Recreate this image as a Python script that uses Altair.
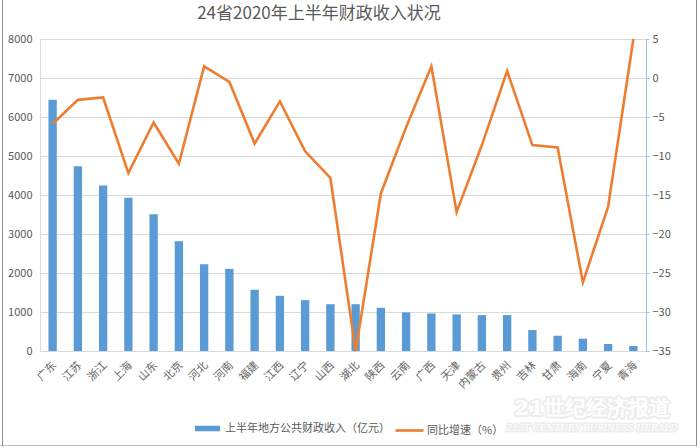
import altair as alt
import pandas as pd

provinces = ["广东", "江苏", "浙江", "上海", "山东", "北京", "河北", "河南", "福建", "江西", "辽宁", "山西",
             "湖北", "陕西", "云南", "广西", "天津", "内蒙古", "贵州", "吉林", "甘肃", "海南", "宁夏", "青海"]
revenue = [6445, 4740, 4245, 3930, 3504, 2813, 2225, 2106, 1570, 1415, 1305, 1200,
           1200, 1108, 990, 963, 938, 920, 920, 537, 392, 315, 180, 128]
growth = [-5.9, -2.8, -2.5, -12.2, -5.7, -11.0, 1.5, -0.5, -8.4, -3.0, -9.4, -12.8,
          -35.0, -14.8, -6.3, 1.5, -17.2, -8.6, 0.9, -8.6, -8.9, -26.2, -16.5, 5.0]
bar_name = "上半年地方公共财政收入（亿元）"
line_name = "同比增速（%）"
title_text = "24省2020年上半年财政收入状况"
watermark = ["21世纪经济报道", "21ST CENTURY BUSINESS HERALD"]

FONT = "Noto Sans CJK SC"
GREY = "#595959"
BLUE = "#5B9BD5"
ORANGE = "#ED7D31"

df = pd.DataFrame({
    "province": provinces,
    "revenue": revenue,
    "growth": growth,
    "bar_series": [bar_name] * len(provinces),
    "line_series": [line_name] * len(provinces),
})

x_enc = alt.X("province:N", sort=provinces, title=None,
              scale=alt.Scale(paddingInner=0.67, paddingOuter=0.335),
              axis=alt.Axis(labelAngle=-45, labelFontSize=11, labelColor="#666666", labelFont=FONT,
                            ticks=False, domainColor="#d9d9d9", labelPadding=8, labelOffset=-2))

bars = alt.Chart(df).mark_bar(color=BLUE).encode(
    x=x_enc,
    y=alt.Y("revenue:Q", title=None,
            scale=alt.Scale(domain=[0, 8000], nice=False),
            axis=alt.Axis(values=list(range(0, 8001, 1000)), format="d", domain=False, ticks=False,
                          labelFontSize=11, labelColor=GREY, labelFont=FONT, labelPadding=8,
                          gridColor="#d9d9d9", grid=True)),
    color=alt.Color("bar_series:N", title=None,
                    scale=alt.Scale(domain=[bar_name], range=[BLUE]),
                    legend=alt.Legend(orient="none", legendX=154, legendY=376,
                                      symbolType="M-1,-0.22H1V0.22H-1Z", symbolSize=625,
                                      symbolOpacity=1, labelFontSize=11, labelColor=GREY,
                                      labelFont=FONT, labelOffset=4, labelLimit=0)),
)

line = alt.Chart(df).mark_line(strokeWidth=2.6).encode(
    x=alt.X("province:N", sort=provinces),
    y=alt.Y("growth:Q", title=None,
            scale=alt.Scale(domain=[-35, 5], nice=False),
            axis=alt.Axis(orient="right", values=list(range(-35, 6, 5)), grid=False,
                          domainColor="#9DBFE0", tickColor="#9DBFE0", tickSize=3,
                          labelFontSize=11, labelColor=GREY, labelFont=FONT, labelPadding=3)),
    stroke=alt.Stroke("line_series:N", title=None,
                      scale=alt.Scale(domain=[line_name], range=[ORANGE]),
                      legend=alt.Legend(orient="none", legendX=354, legendY=376,
                                        symbolType="stroke", symbolSize=784, symbolStrokeWidth=2.6,
                                        labelFontSize=11, labelColor=GREY,
                                        labelFont=FONT, labelOffset=2, labelLimit=0)),
)

title_df = pd.DataFrame({"t": [title_text]})
title_mark = alt.Chart(title_df).mark_text(font=FONT, fontSize=17, color=GREY,
                                           align="center", baseline="middle").encode(
    x=alt.value(279), y=alt.value(-25), text="t:N")

wm_df = pd.DataFrame({"t": [watermark[0]]})
wm_df2 = pd.DataFrame({"t": [watermark[1]]})
wm1_halo = alt.Chart(wm_df).mark_text(font="DejaVu Serif", fontSize=21, fontWeight="bold",
                                      color="#f2f2f2", stroke="#ededed", strokeWidth=4,
                                      strokeJoin="round").encode(
    x=alt.value(552), y=alt.value(370), text="t:N")
wm1 = alt.Chart(wm_df).mark_text(font="DejaVu Serif", fontSize=21, fontWeight="bold",
                                 color="white").encode(
    x=alt.value(552), y=alt.value(370), text="t:N")
wm2_halo = alt.Chart(wm_df2).mark_text(font="DejaVu Serif", fontSize=9, fontStyle="italic",
                                       color="#f2f2f2", stroke="#ededed", strokeWidth=3,
                                       strokeJoin="round").encode(
    x=alt.value(552), y=alt.value(389), text="t:N")
wm2 = alt.Chart(wm_df2).mark_text(font="DejaVu Serif", fontSize=9, fontStyle="italic",
                                  color="white").encode(
    x=alt.value(552), y=alt.value(389), text="t:N")

frame_df = pd.DataFrame({"k": [1]})
frame_right = alt.Chart(frame_df).mark_rule(color="#8c8c8c", strokeWidth=1).encode(
    x=alt.value(656.5), y=alt.value(-39), y2=alt.value(407.5))
frame_bottom = alt.Chart(frame_df).mark_rule(color="#bfbfbf", strokeWidth=1).encode(
    x=alt.value(-40), x2=alt.value(656.5), y=alt.value(406.5))
frame_left = alt.Chart(frame_df).mark_rule(color="#8c8c8c", strokeWidth=1).encode(
    x=alt.value(-37.5), y=alt.value(-39), y2=alt.value(407.5))

chart = alt.layer(bars, line, title_mark, wm1_halo, wm1, wm2_halo, wm2,
                  frame_right, frame_bottom, frame_left).resolve_scale(
    y="independent", color="independent", stroke="independent"
).properties(
    width=606, height=312,
    autosize=alt.AutoSizeParams(type="none"),
    padding={"left": 40, "top": 39, "right": 54, "bottom": 97},
).configure_view(stroke=None).configure(background="white")

chart.save("out.html", embed_options={"renderer": "svg", "actions": False})
